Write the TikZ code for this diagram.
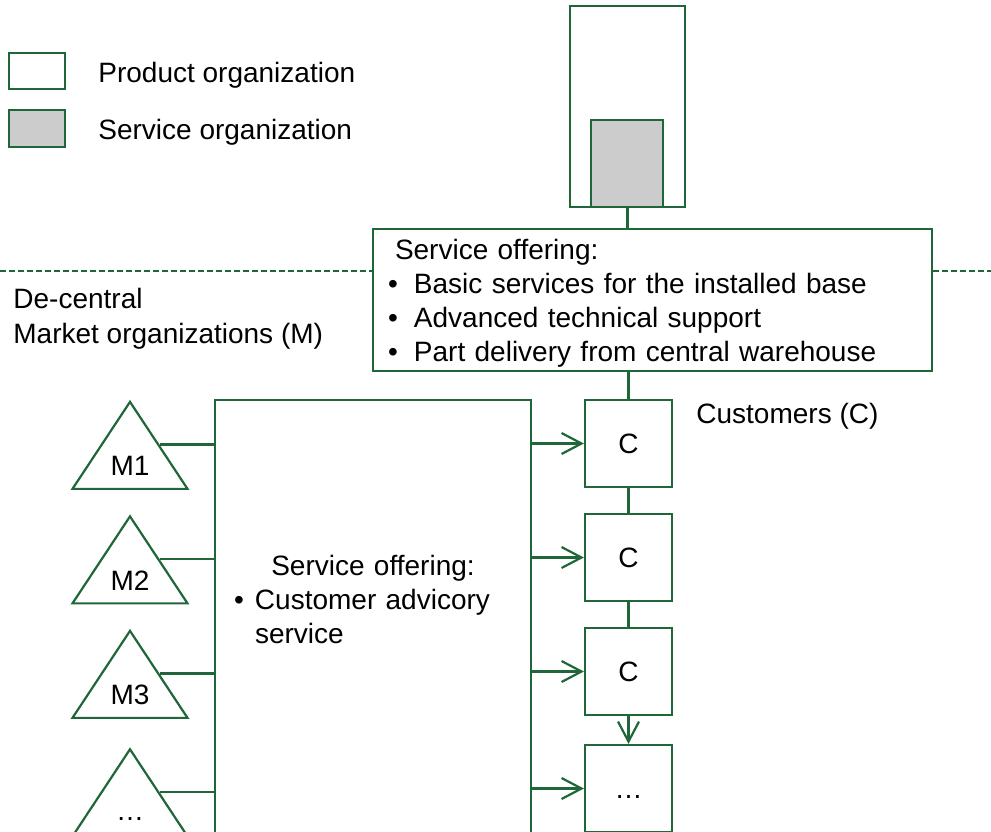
\documentclass[tikz,border=0pt]{standalone}
\usepackage{fontspec}
\setmainfont{Liberation Sans}
\usetikzlibrary{arrows.meta,shapes.geometric}

\definecolor{orggreen}{RGB}{31,102,56}
\definecolor{servgray}{RGB}{204,204,204}

% bullet with a fixed gap before the item text
\newcommand{\offerbullet}[1][13pt]{\makebox[#1][l]{\textbullet}}

\begin{document}
\begin{tikzpicture}[
  x=0.5pt, y=-0.5pt,
  every node/.style={font=\fontsize{14}{17}\selectfont},
  caption/.style={anchor=base west, inner sep=0pt},
  orgbox/.style={draw=orggreen, line width=1.1pt, fill=white, inner sep=0pt},
  servbox/.style={orgbox, fill=servgray},
  custbox/.style={orgbox, minimum width=43.5pt, minimum height=43.5pt, text height=10pt, text depth=0pt},
  mkttri/.style={draw=orggreen, line width=1.1pt, fill=white, isosceles triangle, isosceles triangle stretches, shape border rotate=90, minimum width=57.5pt, minimum height=43.5pt, inner sep=0pt, text height=10pt, text depth=0pt},
  link/.style={draw=orggreen, line width=1.1pt},
  feed/.style={link, -{Straight Barb[length=10pt, width=10.5pt]}},
  divider/.style={draw=orggreen, line width=0.75pt, dash pattern=on 3pt off 1.5pt}
]
\useasboundingbox (0,0) rectangle (991,831);
\clip (0,0) rectangle (991,831);

% legend
\node[orgbox, minimum width=28pt, minimum height=18pt] (prodkey) at (37,71) {};
\node[servbox, minimum width=28pt, minimum height=18.5pt] (servkey) at (37,128.5) {};
\node[caption] (prodtxt) at (98,82) {Product organization};
\node[caption] (servtxt) at (98,139) {Service organization};

% central product organization with its service unit
\node[orgbox, minimum width=57.5pt, minimum height=100.5pt] (product) at (627.5,106.5) {};
\node[servbox, minimum width=36pt, minimum height=43.5pt] (service) at (627,163.5) {};
\node[orgbox, text width=264.5pt, inner xsep=7.5pt, minimum height=71pt, align=left] (central) at (652.5,300)
  {\rule{0pt}{13.3pt}\hspace*{3.5pt}Service offering:\\
   \offerbullet Basic services for the installed base\\
   \offerbullet Advanced technical support\\
   \offerbullet Part delivery from central warehouse};

% central / de-central border
\coordinate (cutL) at (0,271);
\coordinate (cutR) at (991,271);
\draw[divider] (cutL) -- (cutL -| central.west);
\draw[divider] (central.east |- cutR) -- (cutR);

\node[caption] (region) at (13,308) {De-central};
\node[caption] (mktorgs) at (13,343) {Market organizations (M)};
\node[caption] (custtxt) at (696,423) {Customers (C)};

% market organizations
\node[mkttri] (m1) at (130,465.5) {M1};
\node[mkttri] (m2) at (130,580) {M2};
\node[mkttri] (m3) at (130,694.5) {M3};
\node[mkttri] (m4) at (130,810) {\dots};

\node[orgbox, minimum width=158pt, minimum height=230pt] (marketbox) at (373,630) {};
\node[text width=139pt, inner sep=0pt] (mktoffer) at (373,599.5)
  {\centering Service offering:\par
   \raggedright\offerbullet[10.5pt]Customer advicory\\
   \hspace*{10.5pt}service};

% customers
\node[custbox] (c1) at (628.5,443.5) {C};
\node[custbox] (c2) at (628.5,557.5) {C};
\node[custbox] (c3) at (628.5,671.5) {C};
\node[custbox] (c4) at (628.5,788.5) {\dots};

% connectors
\draw[link] (product.south) -- (product.south |- central.north);
\draw[link] (c1 |- central.south) -- (c1);
\draw[link] (c1) -- (c2);
\draw[link] (c2) -- (c3);
\draw[feed] (c3) -- (c4);

\draw[link] (m1.right side) -- (m1.right side -| marketbox.west);
\draw[link] (m2.right side) -- (m2.right side -| marketbox.west);
\draw[link] (m3.right side) -- (m3.right side -| marketbox.west);
\draw[link] (m4.right side) -- (m4.right side -| marketbox.west);

\draw[feed] (c1 -| marketbox.east) -- (c1);
\draw[feed] (c2 -| marketbox.east) -- (c2);
\draw[feed] (c3 -| marketbox.east) -- (c3);
\draw[feed] (c4 -| marketbox.east) -- (c4);
\end{tikzpicture}
\end{document}
